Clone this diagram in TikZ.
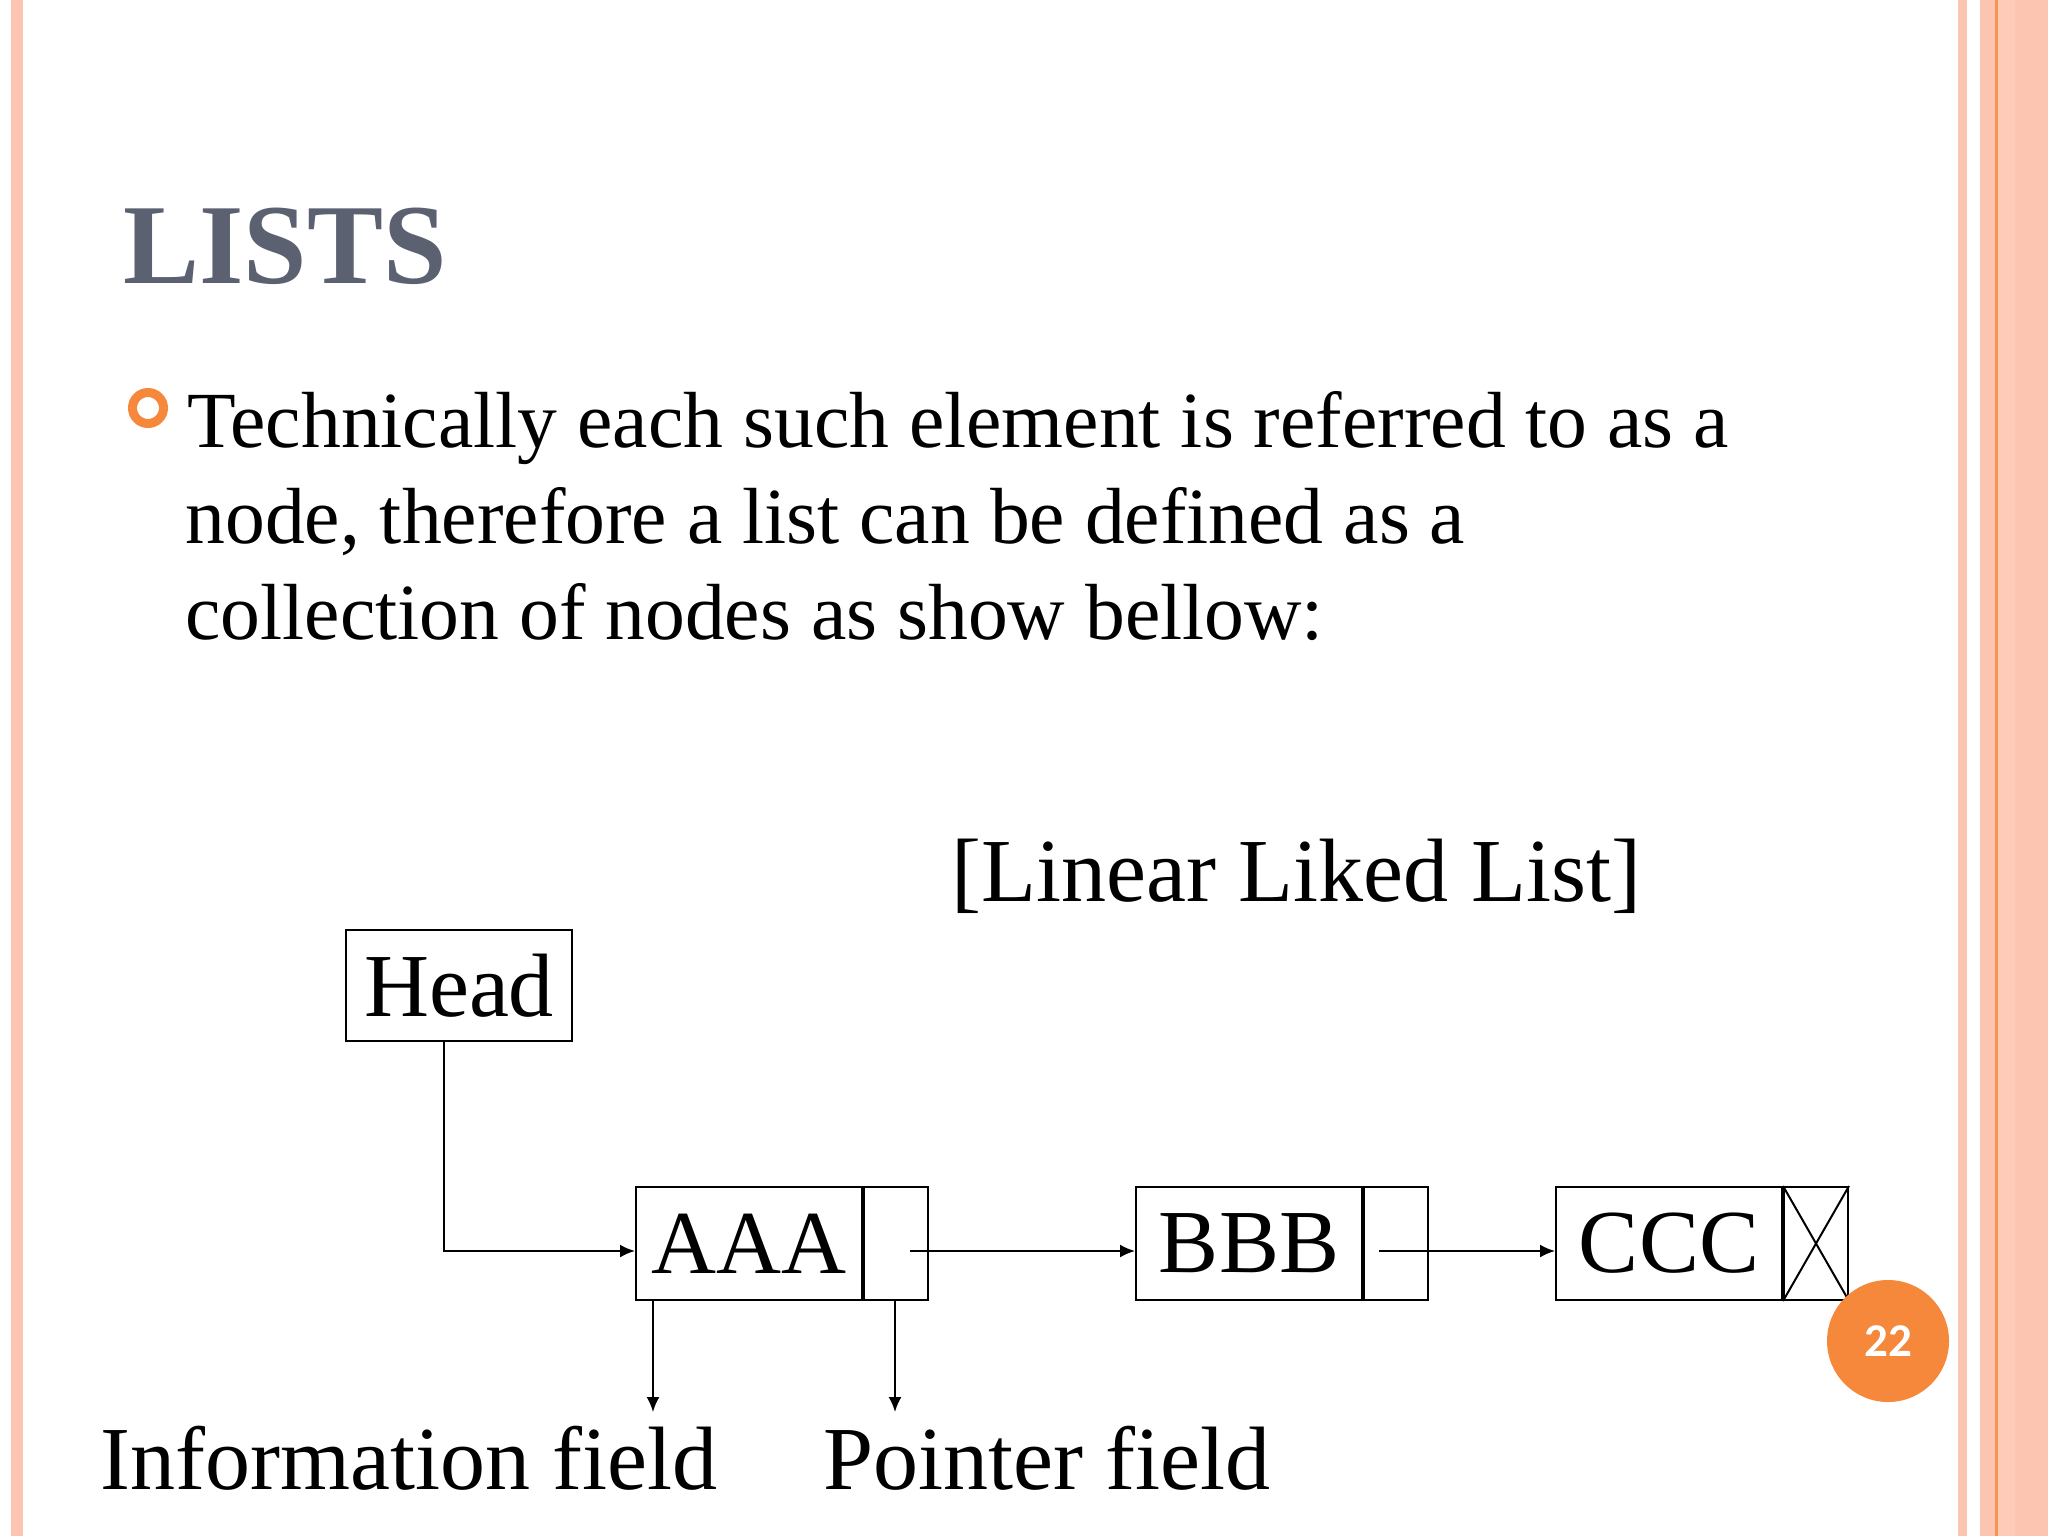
\documentclass[tikz,border=0pt]{standalone}
\usepackage{fontspec}
\setmainfont{Liberation Serif}
\newfontfamily\numfont{Carlito}
\usetikzlibrary{arrows.meta,calc}
\definecolor{peach}{HTML}{FCC5B1}
\definecolor{peachb}{HTML}{FDCBB8}
\definecolor{accent}{HTML}{F5883A}
\definecolor{titlegray}{HTML}{5B6171}
\newcommand\titlesize{\fontsize{57}{68}\selectfont}
\newcommand\bodysize{\fontsize{39.8}{48}\selectfont}
\newcommand\diagsize{\fontsize{45}{54}\selectfont}
\begin{document}
\begin{tikzpicture}[x=0.5pt,y=-0.5pt,
  cellbox/.style={draw, line width=1pt, inner sep=0pt, minimum height=56.5pt, font=\diagsize},
  infocell/.style={cellbox, minimum width=113pt},
  ptrcell/.style={cellbox, minimum width=32pt},
  arr/.style={line width=1pt, -{Latex[length=7.5pt,width=6.5pt]}},
  bodytext/.style={anchor=base west, inner sep=0pt, font=\bodysize},
  labeltext/.style={anchor=base west, inner sep=0pt, font=\diagsize}]
\useasboundingbox (0,0) rectangle (2048,1536);
\fill[white] (0,0) rectangle (2048,1536);
% border stripes
\fill[peach] (11,0) rectangle (23,1536);
\fill[peach] (1958,0) rectangle (1967,1536);
\fill[peach] (1980,0) rectangle (2048,1536);
\fill[peachb] (1998,0) rectangle (2015,1536);
\fill[accent!80!peach] (1995,0) rectangle (1997.5,1536);
% title
\node[anchor=base west, inner sep=0pt, font=\titlesize\bfseries, text=titlegray] (title) at (123,283) {LISTS};
% bullet
\node[circle, draw=accent, line width=4.5pt, minimum size=15.5pt, inner sep=0pt] (bullet) at (148,408) {};
% body text
\node[bodytext] (l1) at (187,447) {Technically each such element is referred to as a};
\node[bodytext] (l2) at (185,543) {node, therefore a list can be defined as a};
\node[bodytext] (l3) at (185,639) {collection of nodes as show bellow:};
% caption
\node[labeltext] (cap) at (951,901) {[Linear Liked List]};
% head
\node[cellbox, minimum width=113pt, minimum height=55.5pt] (Head) at (459,985.5) {Head};
% list nodes
\node[infocell] (AAAi) at (749,1243.5) {AAA};
\node[ptrcell, anchor=west] (AAAp) at (AAAi.east) {};
\node[infocell] (BBBi) at (1249,1243.5) {BBB};
\node[ptrcell, anchor=west] (BBBp) at (BBBi.east) {};
\node[infocell] (CCCi) at (1669,1243.5) {CCC};
\node[ptrcell, anchor=west] (CCCp) at (CCCi.east) {};
\draw[line width=1pt] (CCCp.north west) -- (CCCp.south east);
\draw[line width=1pt] (CCCp.north east) -- (CCCp.south west);
% connectors
\coordinate (hturn) at (444,1251);
\draw[arr] (Head.south -| hturn) -- (hturn) -- (hturn -| AAAi.west);
\coordinate (pa) at (910,1251);
\draw[arr] (pa) -- (pa -| BBBi.west);
\coordinate (pb) at (1379,1251);
\draw[arr] (pb) -- (pb -| CCCi.west);
% field labels
\coordinate (infoend) at (653,1412);
\coordinate (ptrend) at (895,1412);
\draw[arr] (AAAi.south -| infoend) -- (infoend);
\draw[arr] (AAAp.south -| ptrend) -- (ptrend);
\node[labeltext] (infolbl) at (100,1489) {Information field};
\node[labeltext] (ptrlbl) at (823,1489) {Pointer field};
% page number
\node[circle, fill=accent, minimum size=61pt, inner sep=0pt, text=white, font=\numfont\bfseries\fontsize{23.5}{28}\selectfont] (pagenum) at (1888,1341) {22};
\end{tikzpicture}
\end{document}
